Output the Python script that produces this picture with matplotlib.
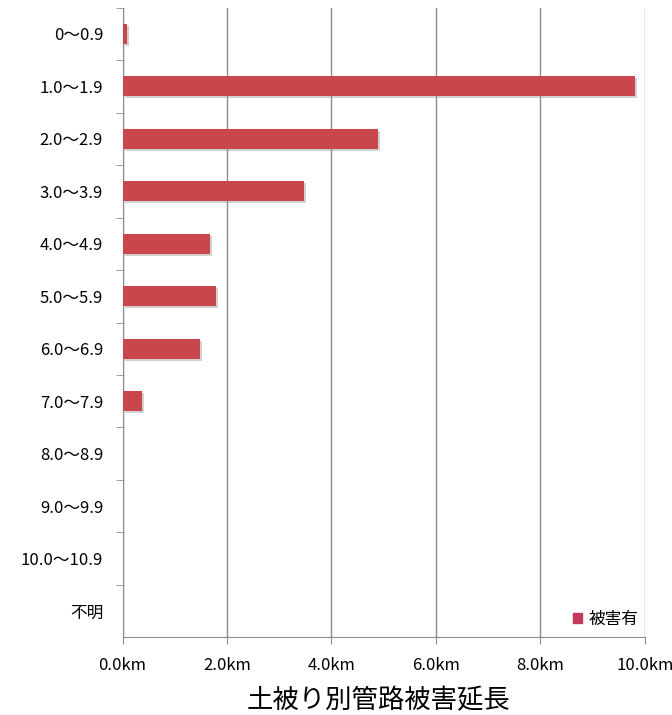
import matplotlib
matplotlib.use("Agg")
import matplotlib.pyplot as plt
import matplotlib.patheffects as pe
import numpy as np

plt.rcParams['font.family'] = ['Noto Sans CJK JP', 'DejaVu Sans']

categories = ['0～0.9', '1.0～1.9', '2.0～2.9', '3.0～3.9', '4.0～4.9', '5.0～5.9',
              '6.0～6.9', '7.0～7.9', '8.0～8.9', '9.0～9.9', '10.0～10.9', '不明']
damage_km = [0.08, 9.8, 4.89, 3.48, 1.68, 1.78, 1.48, 0.37, 0, 0, 0, 0]
xticks = [0, 2, 4, 6, 8, 10]
xticklabels = ['0.0km', '2.0km', '4.0km', '6.0km', '8.0km', '10.0km']

bar_color = '#c9464d'
axis_color = '#8c8c8c'

fig = plt.figure(figsize=(6.72, 7.15), dpi=100)
ax = fig.add_axes([0.1823, 0.1084, 0.7775, 0.8811])

y = np.arange(len(categories))
bars = ax.barh(y, damage_km, height=0.38, color=bar_color, label='被害有', zorder=3)
for b in bars:
    b.set_path_effects([pe.SimplePatchShadow(offset=(1.5, -1.5), shadow_rgbFace='#999999', alpha=0.45),
                        pe.Normal()])

ax.set_ylim(len(categories) - 0.5, -0.5)
ax.set_xlim(0, 10)

# category labels sit between the separator ticks
ax.set_yticks(y)
ax.set_yticklabels(categories, fontsize=12)
ax.set_yticks(np.arange(-0.5, len(categories) - 0.5), minor=True)
ax.tick_params(axis='y', which='major', length=0, pad=14)
ax.tick_params(axis='y', which='minor', length=5, color=axis_color, direction='out')

ax.set_xticks(xticks)
ax.set_xticklabels(xticklabels, fontsize=12)
ax.tick_params(axis='x', length=5, color=axis_color, pad=9)

ax.grid(axis='x', color='#8c8c8c', linewidth=1, zorder=0)
for side in ['top', 'right']:
    ax.spines[side].set_visible(False)
for side in ['left', 'bottom']:
    ax.spines[side].set_color(axis_color)

leg = ax.legend(loc='lower right', frameon=False, fontsize=12, handlelength=0.5, handleheight=0.5,
                handletextpad=0.4, borderaxespad=0.0, bbox_to_anchor=(1.0, 0.005))
leg.legend_handles[0].set_path_effects([])
leg.legend_handles[0].set_color('#c23a5a')

fig.text(0.563, 0.02, '土被り別管路被害延長', ha='center', va='center', fontsize=19)

fig.savefig('out.png', dpi=100)
